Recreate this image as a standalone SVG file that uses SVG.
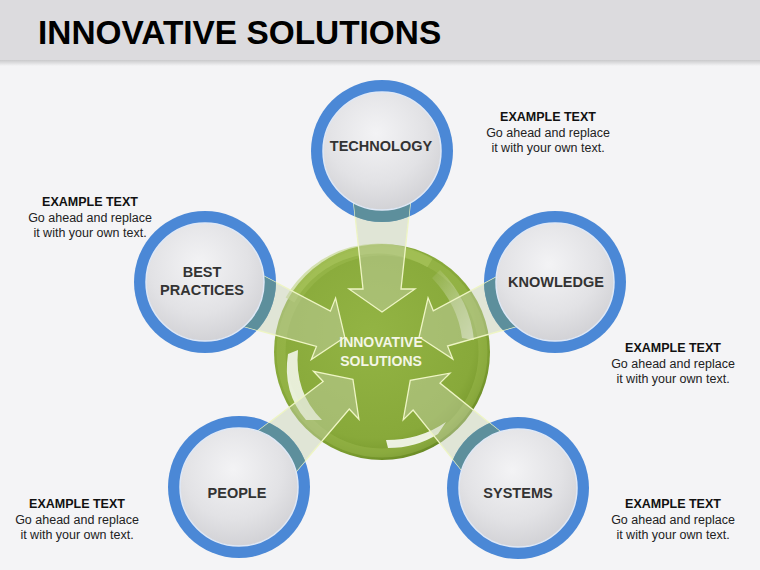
<svg xmlns="http://www.w3.org/2000/svg" width="760" height="570" viewBox="0 0 760 570">
<defs>
  <style>
    .title{font-family:"Liberation Sans",Arial,sans-serif;font-weight:bold;font-size:33.4px;fill:#000}
    .lbl{font-family:"Liberation Sans",Arial,sans-serif;font-weight:bold;font-size:14.5px;fill:#333;text-anchor:middle}
    .clbl{font-family:"Liberation Sans",Arial,sans-serif;font-weight:bold;font-size:14px;fill:#f4f6e6;text-anchor:middle}
    .eh{font-family:"Liberation Sans",Arial,sans-serif;font-weight:bold;font-size:12.5px;fill:#111;text-anchor:middle}
    .eb{font-family:"Liberation Sans",Arial,sans-serif;font-size:12.5px;fill:#222;text-anchor:middle}
    .ring{fill:#4b88d6}
    .inner{fill:url(#innerG);stroke:#dfe8f6;stroke-width:1.5}
    .beam{fill:#c8d2b0;fill-opacity:0.45;stroke:#eef5c4;stroke-width:1.3}
    .teal{fill:#5d8f9c}
  </style>
  <linearGradient id="shadow" x1="0" y1="0" x2="0" y2="1">
    <stop offset="0" stop-color="#c9c9cb"/>
    <stop offset="1" stop-color="#f4f4f6"/>
  </linearGradient>
  <radialGradient id="innerG" cx="0.45" cy="0.35" r="0.7">
    <stop offset="0" stop-color="#f3f3f5"/>
    <stop offset="0.6" stop-color="#e2e2e5"/>
    <stop offset="1" stop-color="#cfcfd3"/>
  </radialGradient>
  <radialGradient id="greenG" cx="0.45" cy="0.42" r="0.6">
    <stop offset="0" stop-color="#93b444"/>
    <stop offset="0.8" stop-color="#88a93a"/>
    <stop offset="0.92" stop-color="#7c9d30"/>
    <stop offset="1" stop-color="#678824"/>
  </radialGradient>
  <linearGradient id="hl" x1="0" y1="0" x2="1" y2="1">
    <stop offset="0" stop-color="#ffffff" stop-opacity="0.05"/>
    <stop offset="1" stop-color="#ffffff" stop-opacity="0.6"/>
  </linearGradient>
  <path id="beam" d="M40 0 L63 33 L63 19 L165 30 L165 -30 L63 -19 L63 -33 Z"/>
  <clipPath id="cTech"><circle cx="382" cy="151" r="71"/></clipPath>
  <clipPath id="cBest"><circle cx="205" cy="282" r="71"/></clipPath>
  <clipPath id="cKnow"><circle cx="555" cy="282" r="71"/></clipPath>
  <clipPath id="cPeop"><circle cx="239" cy="487" r="71"/></clipPath>
  <clipPath id="cSyst"><circle cx="518" cy="488" r="71"/></clipPath>
</defs>

<rect x="0" y="0" width="760" height="570" fill="#f4f4f6"/>
<rect x="0" y="0" width="760" height="60" fill="#dcdbde"/>
<rect x="0" y="60" width="760" height="6" fill="url(#shadow)"/>
<text class="title" x="38" y="44">INNOVATIVE SOLUTIONS</text>

<g id="center">
  <circle cx="382" cy="352" r="108" fill="url(#greenG)"/>
  <path d="M290 300 A101 101 0 0 1 430 263" fill="none" stroke="#b4cd68" stroke-opacity="0.5" stroke-width="10"/>
  <circle cx="382" cy="352" r="101" fill="none" stroke="#a6c35a" stroke-opacity="0.35" stroke-width="9"/>
  <path d="M298 350 Q294 392 322 420 L306 420 Q282 392 288 354 Z" fill="#ffffff" fill-opacity="0.8"/>
  <path d="M386 440 Q420 440 446 422 L438 434 Q416 448 388 448 Z" fill="#ffffff" fill-opacity="0.85"/>
  <path d="M440 270 Q470 300 474 340 L462 338 Q458 305 432 278 Z" fill="url(#hl)"/>
</g>

<g id="rings">
  <circle class="ring" cx="382" cy="151" r="71"/>
  <circle class="ring" cx="205" cy="282" r="71"/>
  <circle class="ring" cx="555" cy="282" r="71"/>
  <circle class="ring" cx="239" cy="487" r="71"/>
  <circle class="ring" cx="518" cy="488" r="71"/>
</g>

<g id="connectors">
  <use href="#beam" class="beam" transform="translate(382 352) rotate(-90)"/>
  <use href="#beam" class="beam" transform="translate(382 352) rotate(-158.4)"/>
  <use href="#beam" class="beam" transform="translate(382 352) rotate(-22)"/>
  <use href="#beam" class="beam" transform="translate(382 352) rotate(136.6)"/>
  <use href="#beam" class="beam" transform="translate(382 352) rotate(45)"/>
  <g clip-path="url(#cTech)"><use href="#beam" class="teal" transform="translate(382 352) rotate(-90)"/></g>
  <g clip-path="url(#cBest)"><use href="#beam" class="teal" transform="translate(382 352) rotate(-158.4)"/></g>
  <g clip-path="url(#cKnow)"><use href="#beam" class="teal" transform="translate(382 352) rotate(-22)"/></g>
  <g clip-path="url(#cPeop)"><use href="#beam" class="teal" transform="translate(382 352) rotate(136.6)"/></g>
  <g clip-path="url(#cSyst)"><use href="#beam" class="teal" transform="translate(382 352) rotate(45)"/></g>
</g>

<text class="clbl" x="381" y="347">INNOVATIVE</text>
<text class="clbl" x="381" y="366">SOLUTIONS</text>

<g id="technology">
  <circle class="inner" cx="382" cy="151" r="59"/>
  <text class="lbl" x="381" y="151">TECHNOLOGY</text>
</g>
<g id="best-practices">
  <circle class="inner" cx="205" cy="282" r="59"/>
  <text class="lbl" x="202" y="277">BEST</text>
  <text class="lbl" x="202" y="295">PRACTICES</text>
</g>
<g id="knowledge">
  <circle class="inner" cx="555" cy="282" r="59"/>
  <text class="lbl" x="556" y="287">KNOWLEDGE</text>
</g>
<g id="people">
  <circle class="inner" cx="239" cy="487" r="59"/>
  <text class="lbl" x="237" y="498">PEOPLE</text>
</g>
<g id="systems">
  <circle class="inner" cx="518" cy="488" r="59"/>
  <text class="lbl" x="518" y="498">SYSTEMS</text>
</g>

<g id="text-top-right">
  <text class="eh" x="548" y="121">EXAMPLE TEXT</text>
  <text class="eb" x="548" y="137">Go ahead and replace</text>
  <text class="eb" x="548" y="152">it with your own text.</text>
</g>
<g id="text-left">
  <text class="eh" x="90" y="206">EXAMPLE TEXT</text>
  <text class="eb" x="90" y="222">Go ahead and replace</text>
  <text class="eb" x="90" y="237">it with your own text.</text>
</g>
<g id="text-right">
  <text class="eh" x="673" y="352">EXAMPLE TEXT</text>
  <text class="eb" x="673" y="368">Go ahead and replace</text>
  <text class="eb" x="673" y="383">it with your own text.</text>
</g>
<g id="text-bottom-left">
  <text class="eh" x="77" y="508">EXAMPLE TEXT</text>
  <text class="eb" x="77" y="524">Go ahead and replace</text>
  <text class="eb" x="77" y="539">it with your own text.</text>
</g>
<g id="text-bottom-right">
  <text class="eh" x="673" y="508">EXAMPLE TEXT</text>
  <text class="eb" x="673" y="524">Go ahead and replace</text>
  <text class="eb" x="673" y="539">it with your own text.</text>
</g>
</svg>
